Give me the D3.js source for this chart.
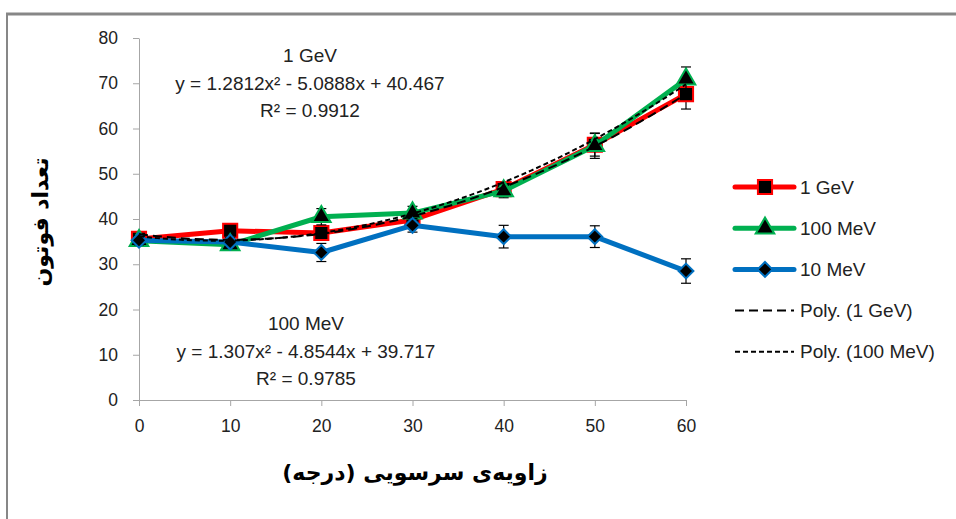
<!DOCTYPE html>
<html>
<head>
<meta charset="utf-8">
<script src="https://cdn.jsdelivr.net/npm/d3@7"></script>
<style>
  html, body { margin: 0; padding: 0; background: #fff; }
  svg { display: block; }
  .tick text { font-family: "Liberation Sans", Arial, sans-serif; font-size: 17.5px; fill: #222; }
  .axis path, .axis line { stroke: #a6a6a6; }
  .lbl { font-family: "Liberation Sans", Arial, sans-serif; font-size: 19px; fill: #222; }
  .fa { font-family: "DejaVu Sans", sans-serif; font-weight: bold; fill: #000; }
</style>
</head>
<body>
<div id="chart"></div>
<script>
// angle (degrees)
const angles = [0, 10, 20, 30, 40, 50, 60];
const yTicks = [0, 10, 20, 30, 40, 50, 60, 70, 80];

// photon counts
const gev1   = [35.6, 37.4, 36.9, 39.8, 46.6, 56.4, 67.6];
const mev100 = [35.2, 34.3, 40.5, 41.3, 46.2, 56.2, 70.9];
const mev10  = [35.3, 34.9, 32.6, 38.6, 36.1, 36.1, 28.5];

// error bar half-widths
const gev1Err   = [1.0, 1.0, 1.0, 1.2, 1.5, 2.5, 3.3];
const mev100Err = [1.0, 1.0, 1.8, 1.5, 1.5, 2.8, 2.7];
const mev10Err  = [1.0, 1.0, 2.0, 1.5, 2.5, 2.4, 2.7];

// polynomial trendline coefficients [a, b, c] of a*x^2 + b*x + c, x = category index 1..7
const polyGev1   = [1.2812, -5.0888, 40.467];
const polyMev100 = [1.307, -4.8544, 39.717];

const W = 956, H = 519;

const svg = d3.select("#chart").append("svg").attr("width", W).attr("height", H);

// frame (only top and left edges visible)
svg.append("line").attr("x1", 6).attr("x2", W).attr("y1", 14).attr("y2", 14)
  .attr("stroke", "#878787").attr("stroke-width", 3);
svg.append("line").attr("x1", 7).attr("x2", 7).attr("y1", 13).attr("y2", H)
  .attr("stroke", "#878787").attr("stroke-width", 2);

const x = d3.scaleLinear().domain([0, 60]).range([139, 686]);
const y = d3.scaleLinear().domain([0, 80]).range([400, 38]);

// axes
svg.append("g").attr("class", "axis").attr("transform", "translate(0,400)")
  .call(d3.axisBottom(x).tickValues(angles).tickSize(6).tickSizeOuter(0).tickPadding(11))
  .call(g => g.selectAll(".tick text").attr("dy", "0.85em"));
svg.append("g").attr("class", "axis").attr("transform", "translate(139,0)")
  .call(d3.axisLeft(y).tickValues(yTicks).tickSize(6).tickSizeOuter(0).tickPadding(15));

const series = [
  { name: "1 GeV",   vals: gev1,   err: gev1Err,   color: "#ff0000", shape: "square" },
  { name: "100 MeV", vals: mev100, err: mev100Err, color: "#00b050", shape: "triangle" },
  { name: "10 MeV",  vals: mev10,  err: mev10Err,  color: "#0070c0", shape: "diamond" }
];

const symbolOf = s => s === "square" ? d3.symbol(d3.symbolSquare, 200)
  : s === "triangle" ? d3.symbol(d3.symbolTriangle, 150)
  : d3.symbol(d3.symbolDiamond2, 140);

const line = d3.line().x((d, i) => x(angles[i])).y(d => y(d));

series.forEach(s => {
  const g = svg.append("g");
  g.append("path").attr("d", line(s.vals)).attr("fill", "none")
    .attr("stroke", s.color).attr("stroke-width", 5).attr("stroke-linejoin", "round");
  // error bars
  const eb = g.selectAll(".eb").data(s.vals).join("g");
  eb.append("line").attr("x1", (d, i) => x(angles[i])).attr("x2", (d, i) => x(angles[i]))
    .attr("y1", (d, i) => y(d - s.err[i])).attr("y2", (d, i) => y(d + s.err[i]))
    .attr("stroke", "#000").attr("stroke-width", 1.2);
  [-1, 1].forEach(sg => {
    eb.append("line").attr("x1", (d, i) => x(angles[i]) - 5).attr("x2", (d, i) => x(angles[i]) + 5)
      .attr("y1", (d, i) => y(d + sg * s.err[i])).attr("y2", (d, i) => y(d + sg * s.err[i]))
      .attr("stroke", "#000").attr("stroke-width", 1.2);
  });
  g.selectAll(".mk").data(s.vals).join("path")
    .attr("transform", (d, i) => `translate(${x(angles[i])},${y(d)})`)
    .attr("d", symbolOf(s.shape)())
    .attr("fill", "#000").attr("stroke", s.color).attr("stroke-width", 2);
});

// trendlines
const fine = d3.range(1, 7.001, 0.1);
const trend = coef => d3.line()
  .x(t => x((t - 1) * 10))
  .y(t => y(coef[0] * t * t + coef[1] * t + coef[2]))(fine);
svg.append("path").attr("d", trend(polyGev1)).attr("fill", "none")
  .attr("stroke", "#000").attr("stroke-width", 2).attr("stroke-dasharray", "9,5");
svg.append("path").attr("d", trend(polyMev100)).attr("fill", "none")
  .attr("stroke", "#000").attr("stroke-width", 2).attr("stroke-dasharray", "5,3");

// trendline labels
const eqLabels = [
  { lines: ["1 GeV", "y = 1.2812x\u00b2 - 5.0888x + 40.467", "R\u00b2 = 0.9912"], cx: 310, y0: 62 },
  { lines: ["100 MeV", "y = 1.307x\u00b2 - 4.8544x + 39.717", "R\u00b2 = 0.9785"], cx: 306, y0: 330 }
];
eqLabels.forEach(l => {
  l.lines.forEach((t, i) => {
    svg.append("text").attr("class", "lbl").attr("x", l.cx).attr("y", l.y0 + i * 27.5)
      .attr("text-anchor", "middle").text(t);
  });
});

// legend
const legend = [
  { name: "1 GeV",   color: "#ff0000", shape: "square" },
  { name: "100 MeV", color: "#00b050", shape: "triangle" },
  { name: "10 MeV",  color: "#0070c0", shape: "diamond" },
  { name: "Poly. (1 GeV)",   dash: "9,5" },
  { name: "Poly. (100 MeV)", dash: "5,3" }
];
legend.forEach((d, i) => {
  const ly = 187 + i * 41.2;
  if (d.color) {
    svg.append("line").attr("x1", 735).attr("x2", 794).attr("y1", ly).attr("y2", ly)
      .attr("stroke", d.color).attr("stroke-width", 5).attr("stroke-linecap", "round");
    svg.append("path").attr("transform", `translate(765,${ly})`)
      .attr("d", symbolOf(d.shape)()).attr("fill", "#000").attr("stroke", d.color).attr("stroke-width", 2);
  } else {
    svg.append("line").attr("x1", 735).attr("x2", 794).attr("y1", ly).attr("y2", ly)
      .attr("stroke", "#000").attr("stroke-width", 2).attr("stroke-dasharray", d.dash);
  }
  svg.append("text").attr("class", "lbl").attr("x", 800).attr("y", ly).attr("dy", "0.35em").text(d.name);
});

// axis titles
svg.append("text").attr("class", "fa").attr("font-size", 22)
  .attr("x", 415).attr("y", 472).attr("dy", "0.35em").attr("text-anchor", "middle")
  .attr("direction", "rtl").text("زاویه‌ی سرسویی (درجه)");
svg.append("text").attr("class", "fa").attr("font-size", 22)
  .attr("transform", "translate(40,222) rotate(-90)").attr("dy", "0.35em").attr("text-anchor", "middle")
  .attr("direction", "rtl").text("تعداد فوتون");
</script>
</body>
</html>
